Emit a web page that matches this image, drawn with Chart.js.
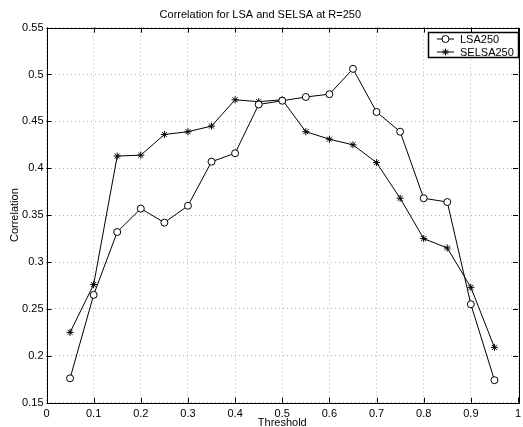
<!DOCTYPE html>
<html>
<head>
<meta charset="utf-8">
<script src="https://cdn.jsdelivr.net/npm/chart.js@4/dist/chart.umd.min.js"></script>
<style>
  html, body { margin: 0; padding: 0; background: #fff; }
  #wrap { width: 523px; height: 427px; }
</style>
</head>
<body>
<div id="wrap"><canvas id="chart"></canvas></div>
<script>
const thresholds = [0.05, 0.1, 0.15, 0.2, 0.25, 0.3, 0.35, 0.4, 0.45, 0.5,
                    0.55, 0.6, 0.65, 0.7, 0.75, 0.8, 0.85, 0.9, 0.95];
const lsa250 = [0.176, 0.265, 0.332, 0.357, 0.342, 0.360, 0.407, 0.416, 0.468, 0.472,
                0.476, 0.479, 0.506, 0.460, 0.439, 0.368, 0.364, 0.255, 0.174];
const selsa250 = [0.225, 0.276, 0.413, 0.414, 0.436, 0.439, 0.445, 0.473, 0.471, 0.473,
                  0.439, 0.431, 0.425, 0.406, 0.368, 0.325, 0.315, 0.273, 0.209];
const seriesNames = ['LSA250', 'SELSA250'];

const FONT = "'Liberation Sans', Arial, Helvetica, sans-serif";

const toPoints = vals => vals.map((v, i) => ({ x: thresholds[i], y: v }));

// matlab style box, inward ticks and boxed legend
const matlabFrame = {
    id: 'matlabFrame',
    afterDraw(chart) {
        const { ctx, chartArea: a, scales: { x, y } } = chart;
        ctx.save();
        ctx.strokeStyle = '#000';
        ctx.lineWidth = 1;
        ctx.beginPath();
        x.ticks.forEach(t => {
            const px = Math.round(x.getPixelForValue(t.value)) + 0.5;
            ctx.moveTo(px, a.bottom); ctx.lineTo(px, a.bottom - 5);
            ctx.moveTo(px, a.top); ctx.lineTo(px, a.top + 5);
        });
        y.ticks.forEach(t => {
            const py = Math.round(y.getPixelForValue(t.value)) + 0.5;
            ctx.moveTo(a.left, py); ctx.lineTo(a.left + 5, py);
            ctx.moveTo(a.right, py); ctx.lineTo(a.right - 5, py);
        });
        ctx.stroke();
        ctx.strokeRect(Math.round(a.left) + 0.5, Math.round(a.top) + 0.5,
                       Math.round(a.right - a.left), Math.round(a.bottom - a.top));

        // legend
        const lx = 428.5, ly = 32.5, lw = 90, lh = 25;
        ctx.fillStyle = '#fff';
        ctx.fillRect(lx, ly, lw, lh);
        ctx.lineWidth = 1.5;
        ctx.strokeRect(lx, ly, lw, lh);
        ctx.lineWidth = 1;
        ctx.font = '11px ' + FONT;
        ctx.textBaseline = 'middle';
        chart.data.datasets.forEach((ds, i) => {
            const cy = ly + 6.5 + i * 13;
            ctx.beginPath();
            ctx.moveTo(437, cy); ctx.lineTo(454, cy);
            ctx.stroke();
            const mx = 445.5, r = 3.5;
            ctx.beginPath();
            if (ds.pointStyle === 'circle') {
                ctx.fillStyle = '#fff';
                ctx.arc(mx, cy, r, 0, Math.PI * 2);
                ctx.fill();
            } else {
                for (let k = 0; k < 4; k++) {
                    const ang = k * Math.PI / 4;
                    ctx.moveTo(mx - r * Math.cos(ang), cy - r * Math.sin(ang));
                    ctx.lineTo(mx + r * Math.cos(ang), cy + r * Math.sin(ang));
                }
            }
            ctx.stroke();
            ctx.fillStyle = '#000';
            ctx.fillText(ds.label, 460, cy + 0.5);
        });
        ctx.restore();
    }
};

const fmt = v => String(+Number(v).toFixed(2));

new Chart(document.getElementById('chart'), {
    type: 'line',
    data: {
        datasets: [
            {
                label: seriesNames[0],
                data: toPoints(lsa250),
                borderColor: '#000',
                borderWidth: 1,
                pointStyle: 'circle',
                pointRadius: 3.5,
                pointBackgroundColor: '#fff',
                pointBorderColor: '#000',
                pointBorderWidth: 1,
                tension: 0
            },
            {
                label: seriesNames[1],
                data: toPoints(selsa250),
                borderColor: '#000',
                borderWidth: 1,
                pointStyle: 'star',
                pointRadius: 3.5,
                pointBorderColor: '#000',
                pointBorderWidth: 1,
                tension: 0
            }
        ]
    },
    options: {
        responsive: true,
        maintainAspectRatio: false,
        animation: false,
        layout: { padding: { right: 2.3 } },
        plugins: {
            legend: { display: false },
            tooltip: { enabled: false },
            title: {
                display: true,
                text: 'Correlation for LSA and SELSA at R=250',
                color: '#000',
                font: { family: FONT, size: 11, weight: 'normal' },
                padding: { top: 8.4, bottom: 6 }
            }
        },
        scales: {
            x: {
                type: 'linear',
                min: 0, max: 1,
                afterFit: s => { s.height = 24.3; s.paddingRight = 0; s.paddingLeft = 0; },
                ticks: { stepSize: 0.1, color: '#000', padding: 5, maxRotation: 0,
                         font: { family: FONT, size: 11 }, callback: fmt },
                grid: { color: '#b4b4b4', drawTicks: false, lineWidth: 1 },
                border: { display: false, dash: [1, 3] },
                title: { display: true, text: 'Threshold', color: '#000',
                         font: { family: FONT, size: 11, lineHeight: 0.8 }, padding: 0 }
            },
            y: {
                min: 0.15, max: 0.55,
                afterFit: s => { s.width = 46.5; },
                ticks: { stepSize: 0.05, color: '#000', padding: 3,
                         font: { family: FONT, size: 11 }, callback: fmt },
                grid: { color: '#b4b4b4', drawTicks: false, lineWidth: 1 },
                border: { display: false, dash: [1, 3] },
                title: { display: true, text: 'Correlation', color: '#000',
                         font: { family: FONT, size: 11 }, padding: { top: 8, bottom: 0 } }
            }
        }
    },
    plugins: [matlabFrame]
});
</script>
</body>
</html>
